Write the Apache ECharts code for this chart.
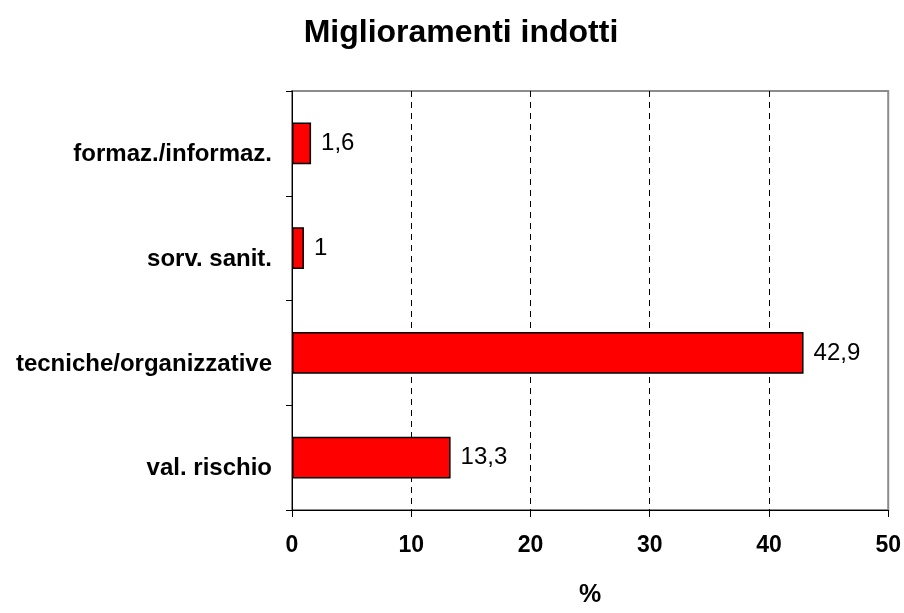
<!DOCTYPE html>
<html><head><meta charset="utf-8">
<script src="https://cdn.jsdelivr.net/npm/echarts@6/dist/echarts.min.js"></script>
<style>html,body{margin:0;padding:0;background:#fff}#c{width:904px;height:613px}</style>
</head><body><div id="c"></div>
<script>
const categories = ['formaz./informaz.', 'sorv. sanit.', 'tecniche/organizzative', 'val. rischio'];
const values = [1.6, 1, 42.9, 13.3];
const xTicks = [0, 10, 20, 30, 40, 50];
const titleText = 'Miglioramenti indotti';
const xName = '%';

const chart = echarts.init(document.getElementById('c'), null, {renderer: 'canvas'});
const font = 'Liberation Sans, Arial, sans-serif';
chart.setOption({
  animation: false,
  title: {text: titleText, left: 456, top: 12, textAlign: 'center',
    textStyle: {fontFamily: font, fontWeight: 'bold', fontSize: 32, color: '#000'}},
  grid: {left: 292, right: 15, top: 91, bottom: 97, show: true, borderColor: '#8c8c8c', borderWidth: 2, containLabel: false},
  xAxis: [{
    type: 'value', min: xTicks[0], max: xTicks[xTicks.length - 1], interval: 10,
    name: xName, nameLocation: 'middle', nameGap: 73,
    nameTextStyle: {fontFamily: font, fontWeight: 'bold', fontSize: 25, color: '#000'},
    axisLine: {show: true, onZero: false, lineStyle: {color: '#000', width: 1}},
    axisTick: {show: true, length: 7, lineStyle: {color: '#000'}},
    axisLabel: {margin: 24, fontFamily: font, fontWeight: 'bold', fontSize: 23, color: '#000'},
    splitLine: {show: true, showMinLine: false, showMaxLine: false, lineStyle: {color: '#000', type: [6, 5], width: 1}}
  }],
  yAxis: [{
    type: 'category', data: categories, inverse: true,
    axisLine: {show: true, onZero: false, lineStyle: {color: '#000', width: 1}},
    axisTick: {show: true, length: 6, alignWithLabel: false, lineStyle: {color: '#000'}},
    axisLabel: {margin: 20, verticalAlign: 'top', lineHeight: 22, fontFamily: font, fontWeight: 'bold', fontSize: 24, color: '#000'},
    splitLine: {show: false}
  }],
  series: [{
    type: 'bar', data: values, barWidth: '40%',
    itemStyle: {color: '#ff0000', borderColor: '#000', borderWidth: 1.5},
    label: {show: true, position: 'right', distance: 10, fontFamily: font, fontSize: 24, color: '#000',
      formatter: p => String(p.value).replace('.', ',')}
  }]
});
</script></body></html>
